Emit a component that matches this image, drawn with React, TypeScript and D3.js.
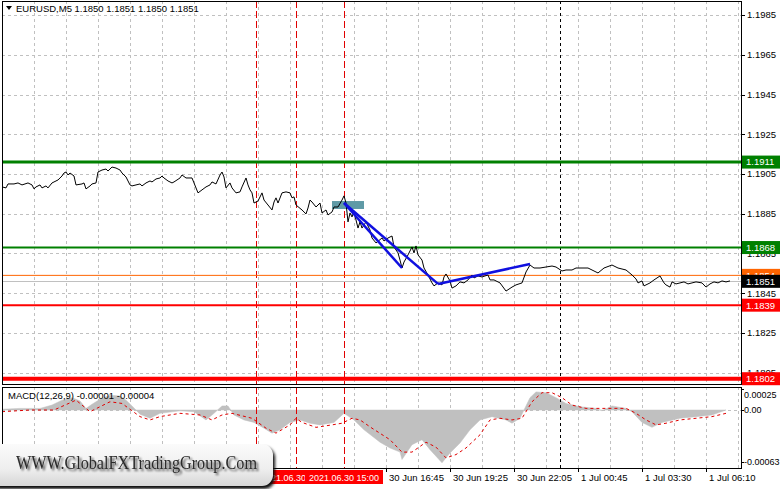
import React from 'react';
import * as d3 from 'd3';

// ---- price series (bar index, close) ----
const priceBars = [0,2,3,6,8,10,13,15,16,17,19,20,22,23,25,28,30,31,32,33,34,36,37,40,41,42,44,45,47,48,50,52,53,55,57,59,60,62,64,65,67,69,70,72,74,75,77,79,80,81,83,85,86,89,90,92,95,96,98,100,102,104,105,107,109,110,111,112,114,115,117,119,120,122,123,124,125,126,128,130,131,133,135,136,137,138,140,142,144,145,146,147,150,152,153,154,155,157,159,160,162,163,165,166,168,170,171,172,173,174,175,176,178,179,180,182,184,185,187,190,191,193,195,196,198,199,200,201,203,205,206,207,208,210,211,213,215,216,218,220,221,222,224,225,227,229,231,233,235,236,238,240,243,244,246,249,252,255,257,260,262,264,266,269,272,275,277,280,282,285,287,290,293,295,298,301,305,308,312,315,317,318,320,321,324,326,329,331,332,334,335,337,339,341,343,345,347,350,352,354,356,358,360,362,364];
const priceValues = [1.18985,1.1898,1.19,1.19,1.19005,1.18995,1.19005,1.18995,1.18975,1.18985,1.18995,1.1898,1.1899,1.1898,1.19005,1.1902,1.1904,1.19055,1.1906,1.19045,1.19055,1.1904,1.18995,1.19,1.19005,1.18975,1.1899,1.19,1.19005,1.1906,1.1907,1.19075,1.19065,1.19085,1.1908,1.1907,1.19055,1.19035,1.18995,1.1899,1.18995,1.19,1.1899,1.19005,1.19015,1.1901,1.19025,1.1903,1.1904,1.1903,1.19015,1.19005,1.1901,1.1903,1.19045,1.1903,1.1903,1.19005,1.18955,1.1897,1.18985,1.18995,1.1901,1.19,1.19045,1.1906,1.19035,1.1898,1.19005,1.1898,1.18955,1.1896,1.18985,1.1903,1.18995,1.1897,1.18955,1.18904,1.18914,1.18955,1.18919,1.18894,1.18869,1.18909,1.1893,1.18904,1.18955,1.1896,1.18955,1.1893,1.18935,1.18894,1.18869,1.18849,1.18879,1.18919,1.18909,1.18884,1.18904,1.18854,1.18869,1.18844,1.18859,1.18884,1.18884,1.18919,1.1894,1.18904,1.18809,1.18854,1.18834,1.18859,1.18778,1.18809,1.18778,1.18809,1.18768,1.18728,1.18703,1.18728,1.18713,1.18728,1.18738,1.18683,1.18653,1.18617,1.18577,1.18607,1.18643,1.18683,1.18653,1.18688,1.18643,1.18617,1.18577,1.18542,1.18502,1.18487,1.18502,1.18492,1.18532,1.18547,1.18512,1.18476,1.18487,1.18507,1.18502,1.18517,1.18542,1.18527,1.18537,1.18532,1.18542,1.18517,1.18517,1.18502,1.18461,1.18481,1.18492,1.18502,1.18557,1.18592,1.18577,1.18577,1.18582,1.18587,1.18582,1.18562,1.18567,1.18567,1.18577,1.18577,1.18577,1.18567,1.18552,1.18577,1.18592,1.18577,1.18567,1.18542,1.18522,1.18502,1.18512,1.18487,1.18502,1.18517,1.18537,1.18502,1.18492,1.18481,1.18507,1.18497,1.18502,1.18507,1.18497,1.18502,1.18507,1.18502,1.18481,1.18497,1.18507,1.18502,1.18512,1.18507,1.18512];

// ---- MACD histogram & signal ----
const macdBars = [0,9,19,25,30,35,39,42,45,49,54,59,62,65,69,74,79,89,96,102,106,110,113,116,121,126,131,135,139,144,149,154,159,166,171,176,181,189,194,199,200,205,210,214,220,224,229,234,239,245,252,255,259,261,264,267,272,277,282,289,297,300,305,312,315,320,325,330,339,347,355,362];
const macdValues = [0.00001,0.00002,0.00002,0.00006,0.00012,0.00015,0.00011,0.00002,0.00007,0.00013,0.00018,0.00017,0.00012,0.00005,-0.00005,-0.0001,-0.00004,-0.00001,-0.00002,-0.00012,-0.00004,0.00005,0.00005,-0.00006,-0.00012,-0.00015,-0.00022,-0.00028,-0.00024,-0.00015,-0.00012,-0.00016,-0.00018,-0.00015,-0.00004,-0.00012,-0.00024,-0.00039,-0.00046,-0.00051,-0.0006,-0.00042,-0.00036,-0.00048,-0.00064,-0.00052,-0.0004,-0.00024,-0.00012,-0.00008,-0.00012,-0.00016,-0.0001,0,0.00015,0.00022,0.00021,0.00015,0.00008,0.00004,0.00002,-0.00001,0.00005,0.00002,-0.00002,-0.00015,-0.00021,-0.00015,-0.0001,-0.00008,-0.00006,0];
const signalBars = [0,14,26,37,44,54,60,69,74,79,89,99,105,110,115,125,132,137,144,147,150,157,165,170,175,179,185,194,200,205,212,217,222,227,232,239,244,249,255,260,265,270,275,280,285,292,305,312,317,322,327,332,339,347,355,362];
const signalValues = [-0.00002,0,0,0.00012,-0.00002,0.0001,0.00008,-0.00008,-0.00012,-0.00008,-0.00004,-0.00006,-0.00012,-0.00006,-0.00004,-0.0001,-0.00022,-0.00028,-0.00018,-0.0001,-0.00015,-0.00021,-0.00018,-0.00016,-0.0001,-0.00012,-0.00022,-0.00036,-0.00051,-0.00051,-0.00039,-0.00045,-0.00058,-0.00054,-0.00046,-0.0003,-0.00012,-0.0001,-0.00012,-0.0001,0.0001,0.00021,0.00021,0.00015,0.00006,0.00002,0.00002,0.00002,-0.00004,-0.00012,-0.00018,-0.00016,-0.00012,-0.0001,-0.00008,-0.00004];

// ---- axis ticks ----
const priceTicks = [1.1985,1.1965,1.1945,1.1925,1.1905,1.1885,1.1865,1.1845,1.1825,1.1805];
const macdTicks = [0.00025, 0, -0.00063];
const macdTickLabels = ['0.00025', '0.00', '-0.00063'];
const timeTickBars = [192,224,256,288,320,352];
const timeTickLabels = ['30 Jun 16:45','30 Jun 19:25','30 Jun 22:05','1 Jul 00:45','1 Jul 03:30','1 Jul 06:10'];

// ---- horizontal levels ----
const levelValues = [1.1911, 1.1868, 1.1854, 1.1839, 1.1802];
const levelLabels = ['1.1911', '1.1868', '1.1854', '1.1839', '1.1802'];
const levelColors = ['#008000', '#008000', '#ff6400', '#ff0000', '#ff0000'];
const levelWidths = [3, 2, 1, 2, 4];
const bidValue = 1.1851;
const bidLabel = '1.1851';

// ---- vertical event lines ----
const eventBars = [127, 147, 171];
const eventLabels = ['2021.06.30 11:20', '2021.06.30 13:00', '2021.06.30 15:00'];
const separatorBar = 279;

// ---- trend lines & rectangle ----
const trendStartBars = [171, 171, 218];
const trendStartPrices = [1.18904, 1.18904, 1.18497];
const trendEndBars = [200, 218, 264];
const trendEndPrices = [1.18577, 1.18497, 1.18597];
const rectBars = [165, 181];
const rectPrices = [1.18914, 1.18874];

const FONT = 'Liberation Sans, Arial, sans-serif';
const FS = 9.5;

export default function App() {
  const W = 781, H = 489;
  const L = 2, R = 741;
  const mainTop = 1, mainBot = 384;
  const mTop = 387, mBot = 468;

  const x = d3.scaleLinear().domain([0, 369]).range([2, 740]);
  const y = d3.scaleLinear().domain([1.1805, 1.1985]).range([372.75, 15]);
  const ym = d3.scaleLinear().domain([-0.00063, 0.00025]).range([462, 389.4]);

  const priceLine = d3.line<number>().x((_, i) => x(priceBars[i])).y(d => y(d))(priceValues) || '';
  const histArea = d3.area<number>().x((_, i) => x(macdBars[i])).y0(ym(0)).y1(d => ym(d))(macdValues) || '';
  const sigLine = d3.line<number>().x((_, i) => x(signalBars[i])).y(d => ym(d))(signalValues) || '';

  const gridBars = d3.range(16, 369, 16);

  return (
    <svg width={W} height={H} style={{ position: 'absolute', left: 0, top: 0, background: '#fff' }}>
      <defs>
        <clipPath id="mainClip"><rect x={L} y={mainTop} width={R - L} height={mainBot - mainTop} /></clipPath>
        <clipPath id="macdClip"><rect x={L} y={mTop} width={R - L} height={mBot - mTop} /></clipPath>
        <linearGradient id="wmGrad" x1="0" y1="0" x2="0" y2="1">
          <stop offset="0" stopColor="#fbfbfb" />
          <stop offset="0.6" stopColor="#eeeeee" />
          <stop offset="1" stopColor="#d6d6d6" />
        </linearGradient>
        <filter id="wmShadow" x="-10%" y="-30%" width="130%" height="180%">
          <feGaussianBlur in="SourceAlpha" stdDeviation="1.2" result="b" />
          <feOffset in="b" dx="1.5" dy="1.5" result="o" />
          <feComponentTransfer in="o" result="o2"><feFuncA type="linear" slope="0.7" /></feComponentTransfer>
          <feMerge><feMergeNode in="o2" /><feMergeNode in="SourceGraphic" /></feMerge>
        </filter>
        <filter id="boxShadow" x="-10%" y="-30%" width="130%" height="180%">
          <feGaussianBlur stdDeviation="1.5" />
        </filter>
      </defs>
      <rect x={0} y={0} width={W} height={H} fill="#fff" />

      {/* main panel */}
      <g clipPath="url(#mainClip)">
        {priceTicks.map(t => (
          <line key={'hg' + t} x1={L} x2={R} y1={Math.round(y(t)) + 0.5} y2={Math.round(y(t)) + 0.5} stroke="#c0c0c0" strokeDasharray="3,3" />
        ))}
        {gridBars.map(b => (
          <line key={'vg' + b} x1={x(b) + 0.5} x2={x(b) + 0.5} y1={mainTop} y2={mainBot} stroke="#c0c0c0" strokeDasharray="3,3" />
        ))}
        {eventBars.map(b => (
          <line key={'ev' + b} x1={x(b) + 0.5} x2={x(b) + 0.5} y1={mainTop} y2={mainBot} stroke="#e00000" strokeDasharray="7,3" />
        ))}
        <line x1={x(separatorBar) + 0.5} x2={x(separatorBar) + 0.5} y1={mainTop} y2={mainBot} stroke="#000" strokeDasharray="3,3" />
        <rect x={x(rectBars[0])} y={y(rectPrices[0])} width={x(rectBars[1]) - x(rectBars[0])} height={y(rectPrices[1]) - y(rectPrices[0])} fill="#5f9aa6" />
        <line x1={L} x2={R} y1={Math.round(y(bidValue)) + 0.5} y2={Math.round(y(bidValue)) + 0.5} stroke="#c0c0c0" />
        {levelValues.map((v, i) => (
          <line key={'lv' + v} x1={L} x2={R} y1={y(v)} y2={y(v)} stroke={levelColors[i]} strokeWidth={levelWidths[i]} />
        ))}
        <path d={priceLine} fill="none" stroke="#000" strokeWidth={1} />
        {trendStartBars.map((b, i) => (
          <line key={'tr' + i} x1={x(b)} y1={y(trendStartPrices[i])} x2={x(trendEndBars[i])} y2={y(trendEndPrices[i])} stroke="#1010e0" strokeWidth={2.5} />
        ))}
      </g>

      {/* header */}
      <path d="M6,6 L12,6 L9,10 Z" fill="#000" />
      <text x={16} y={12} fontFamily={FONT} fontSize={FS} fill="#000">EURUSD,M5  1.1850 1.1851 1.1850 1.1851</text>

      {/* macd panel */}
      <g clipPath="url(#macdClip)">
        <line x1={L} x2={R} y1={Math.round(ym(0)) + 0.5} y2={Math.round(ym(0)) + 0.5} stroke="#c0c0c0" strokeDasharray="3,3" />
        {gridBars.map(b => (
          <line key={'mvg' + b} x1={x(b) + 0.5} x2={x(b) + 0.5} y1={mTop} y2={mBot} stroke="#c0c0c0" strokeDasharray="3,3" />
        ))}
        <path d={histArea} fill="#c0c0c0" stroke="#c0c0c0" strokeWidth={0.5} />
        <path d={sigLine} fill="none" stroke="#e00000" strokeWidth={1} strokeDasharray="3,3" />
        {eventBars.map(b => (
          <line key={'mev' + b} x1={x(b) + 0.5} x2={x(b) + 0.5} y1={mTop} y2={mBot} stroke="#e00000" strokeDasharray="7,3" />
        ))}
        <line x1={x(separatorBar) + 0.5} x2={x(separatorBar) + 0.5} y1={mTop} y2={mBot} stroke="#000" strokeDasharray="3,3" />
      </g>
      <text x={8} y={399} fontFamily={FONT} fontSize={FS} fill="#000">MACD(12,26,9) -0.00001 -0.00004</text>

      {/* frames */}
      <rect x={L + 0.5} y={mainTop + 0.5} width={R - L} height={mainBot - mainTop} fill="none" stroke="#000" />
      <rect x={L + 0.5} y={mTop + 0.5} width={R - L} height={mBot - mTop} fill="none" stroke="#000" />

      {/* price axis */}
      {priceTicks.map(t => (
        <g key={'pt' + t}>
          <line x1={R} x2={R + 4} y1={Math.round(y(t)) + 0.5} y2={Math.round(y(t)) + 0.5} stroke="#000" />
          <text x={R + 6} y={y(t)} dy="0.35em" fontFamily={FONT} fontSize={FS} fill="#000">{t.toFixed(4)}</text>
        </g>
      ))}
      {levelValues.map((v, i) => (
        <g key={'ll' + v}>
          <rect x={R + 1} y={y(v) - 6.5} width={38} height={13} fill={levelColors[i]} />
          <text x={R + 5} y={y(v)} dy="0.35em" fontFamily={FONT} fontSize={FS} fill="#fff">{levelLabels[i]}</text>
        </g>
      ))}
      <rect x={R + 1} y={y(bidValue) - 6.5} width={38} height={13} fill="#000" />
      <text x={R + 5} y={y(bidValue)} dy="0.35em" fontFamily={FONT} fontSize={FS} fill="#fff">{bidLabel}</text>

      {/* macd axis */}
      {macdTicks.map((t, i) => (
        <g key={'mt' + i}>
          <line x1={R} x2={R + 3} y1={Math.round(ym(t)) + 0.5} y2={Math.round(ym(t)) + 0.5} stroke="#000" />
          <text x={R + 3} y={ym(t)} dy={i === 0 ? '0.9em' : '0.35em'} fontFamily={FONT} fontSize={9} fill="#000">{macdTickLabels[i]}</text>
        </g>
      ))}

      {/* time axis */}
      {timeTickBars.map((b, i) => (
        <g key={'tt' + b}>
          <line x1={x(b) + 0.5} x2={x(b) + 0.5} y1={mBot} y2={mBot + 4} stroke="#000" />
          <text x={x(b) + 3} y={481} fontFamily={FONT} fontSize={FS} fill="#000">{timeTickLabels[i]}</text>
        </g>
      ))}
      {eventBars.map((b, i) => (
        <g key={'el' + b}>
          <rect x={x(b) - 39} y={470} width={78} height={14} fill="#ff0000" />
          <text x={x(b)} y={481} textAnchor="middle" fontFamily={FONT} fontSize={9} fill="#fff">{eventLabels[i]}</text>
        </g>
      ))}

      {/* watermark */}
      <rect x={-12} y={447} width={287} height={42} rx={11} fill="#111" filter="url(#boxShadow)" />
      <rect x={-12} y={444} width={285} height={42} rx={11} fill="url(#wmGrad)" />
      <text x={16} y={469} fontFamily="Liberation Serif, Times New Roman, serif" fontSize={19} fill="#2b2b2b" textLength={241} lengthAdjust="spacingAndGlyphs" filter="url(#wmShadow)">WWW.GlobalFXTradingGroup.Com</text>
    </svg>
  );
}
